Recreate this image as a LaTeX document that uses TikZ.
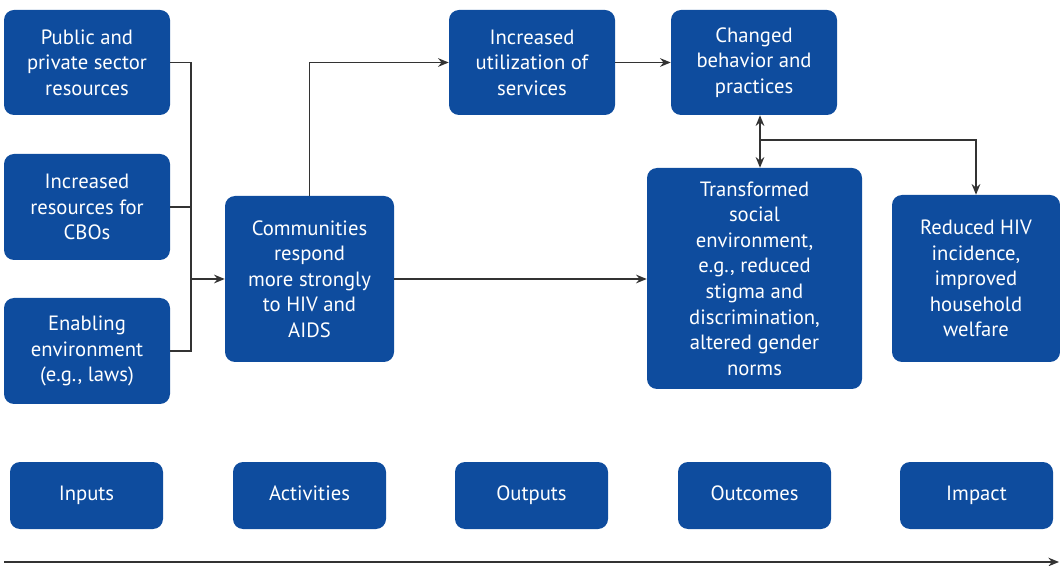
\documentclass[tikz,border=0pt]{standalone}
\usepackage{fontspec}
\setmainfont{PT Sans}
\usetikzlibrary{arrows.meta}
\definecolor{boxblue}{HTML}{0E4C9E}
\definecolor{linegray}{HTML}{333333}
\tikzset{
  box/.style={fill=boxblue, rounded corners=7.5pt, text=white, align=center, inner sep=0pt,
    font=\fontsize{15.5}{19.2}\selectfont},
  label/.style={box, text height=11pt, text depth=3pt},
  conn/.style={draw=linegray, line width=1.1pt, -{Stealth[length=8pt,width=6.5pt]}},
  plain/.style={draw=linegray, line width=1.1pt}
}
\begin{document}
\begin{tikzpicture}[x=0.75pt,y=-0.75pt]
\useasboundingbox (0,0) rectangle (1060,566);
\node[box, minimum width=124.5pt, minimum height=78.75pt] (b1) at (87,62.5) {Public and\\private sector\\resources};
\node[box, minimum width=124.5pt, minimum height=79.5pt] (b2) at (87,207) {Increased\\resources for\\CBOs};
\node[box, minimum width=124.5pt, minimum height=79.5pt] (b3) at (87,351) {Enabling\\environment\\(e.g., laws)};
\node[box, minimum width=126.75pt, minimum height=124.5pt] (b4) at (309.5,279) {Communities\\respond\\more strongly\\to HIV and\\AIDS};
\node[box, minimum width=124.5pt, minimum height=78.75pt] (b5) at (532,62.5) {Increased\\utilization of\\services};
\node[box, minimum width=124.5pt, minimum height=78.75pt] (b6) at (754,62.5) {Changed\\behavior and\\practices};
\node[box, minimum width=161.25pt, minimum height=165.75pt] (b7) at (754.5,278.5) {Transformed\\social\\environment,\\e.g., reduced\\stigma and\\discrimination,\\altered gender\\norms};
\node[box, minimum width=126pt, minimum height=125.25pt] (b8) at (976,278.5) {Reduced HIV\\incidence,\\improved\\household\\welfare};
\foreach \n/\x/\t in {i1/86.5/Inputs, i2/309.5/Activities, i3/531.5/Outputs, i4/754.5/Outcomes, i5/976.5/Impact}
  \node[label, minimum width=114.75pt, minimum height=50.25pt] (\n) at (\x,495.5) {\t};
\coordinate (j) at (191,279);
\coordinate (m) at (760,140);
\coordinate (a0) at (4,562);
\coordinate (a1) at (1059,562);
\draw[plain] (b1.east) -| (j);
\draw[plain] (b2.east) -- (b2.east -| j);
\draw[plain] (b3.east) -| (j);
\draw[conn] (j) -- (b4.west);
\draw[conn] (b4.north) |- (b5.west);
\draw[conn] (b5.east) -- (b6.west);
\draw[conn] (b4.east) -- (b4.east -| b7.west);
\draw[conn, {Stealth[length=8pt,width=6.5pt]}-{Stealth[length=8pt,width=6.5pt]}] (b6.south -| m) -- (b7.north -| m);
\draw[conn] (m) -| (b8.north);
\draw[conn] (a0) -- (a1);
\end{tikzpicture}
\end{document}
